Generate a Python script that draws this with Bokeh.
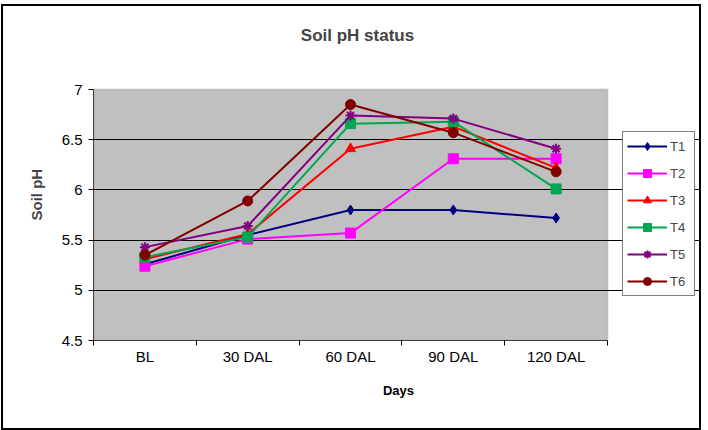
from bokeh.plotting import figure
from bokeh.models import (Range1d, FixedTicker, Legend, LegendItem, Title, Label,
                          BoxAnnotation)
from bokeh.embed import file_html
from bokeh.resources import INLINE

# Sampling days and soil pH readings for each treatment
days = ["BL", "30 DAL", "60 DAL", "90 DAL", "120 DAL"]
t1 = [5.26, 5.55, 5.80, 5.80, 5.72]
t2 = [5.24, 5.51, 5.57, 6.31, 6.31]
t3 = [5.31, 5.56, 6.41, 6.63, 6.22]
t4 = [5.33, 5.53, 6.66, 6.68, 6.01]
t5 = [5.43, 5.64, 6.74, 6.71, 6.41]
t6 = [5.35, 5.89, 6.85, 6.57, 6.18]
y_ticks = [4.5, 5, 5.5, 6, 6.5, 7]

series = [
    ("T1", t1, "#000080", "diamond", 10),
    ("T2", t2, "#FF00FF", "square", 10),
    ("T3", t3, "#FF0000", "triangle", 10),
    ("T4", t4, "#00A650", "square", 10),
    ("T5", t5, "#800080", "asterisk", 10),
    ("T6", t6, "#800000", "circle", 10),
]

FONT = "Liberation Sans"
W, H = 696, 422            # figure size inside the chart border
BORDER = 2
CW, CH = W + 2 * BORDER, H + 2 * BORDER   # drawing surface also spans the border
AL, AR, AT, AB = 90, 604, 83, 334         # grey plotting area on the canvas

xs = list(range(1, len(days) + 1))
x0, x1 = 0.5, len(days) + 0.5
y0, y1 = y_ticks[0], y_ticks[-1]

# the frame runs from the plotting area to the right and top canvas edges,
# so the legend and title can sit beside the grey area
px_x = (AR - AL) / (x1 - x0)
px_y = (AB - AT) / (y1 - y0)
x_end = x0 + (CW - AL) / px_x
y_end = y1 + AT / px_y

p = figure(width=W, height=H, output_backend="svg", toolbar_location=None,
           x_range=Range1d(x0, x_end), y_range=Range1d(y0, y_end),
           min_border_left=AL, min_border_right=0,
           min_border_top=0, min_border_bottom=CH - AB)

# black frame round the whole chart
p.styles = {"border": f"{BORDER}px solid black", "margin-left": "1px",
            "margin-top": "4px", "box-sizing": "content-box"}

p.background_fill_color = "white"
p.border_fill_color = "white"
p.outline_line_color = None

p.add_layout(BoxAnnotation(left=x0, right=x1, bottom=y0, top=y1, level="image",
                           fill_color="#C0C0C0", fill_alpha=1,
                           line_color="#808080", line_width=2))

p.add_layout(Title(text="Soil pH", text_font=FONT, text_font_size="15px",
                   text_font_style="bold", align="left", offset=120,
                   standoff=28), "left")

# chart title, placed in canvas pixels above the plotting area
p.add_layout(Label(x=357 - 93, y=AB - 29, x_units="screen", y_units="screen",
                   text="Soil pH status", text_align="center", text_baseline="middle",
                   text_font=FONT, text_font_size="17px", text_font_style="bold"))

# category axis: labels at centres, short ticks on the boundaries
p.xaxis.bounds = (x0, x1)
p.xaxis.ticker = FixedTicker(ticks=xs, minor_ticks=[x - 0.5 for x in xs] + [xs[-1] + 0.5])
p.xaxis.major_label_overrides = {x: d for x, d in zip(xs, days)}
p.xaxis.major_tick_out = 0
p.xaxis.major_tick_in = 0
p.xaxis.minor_tick_out = 5
p.xaxis.minor_tick_in = 0
p.xaxis.minor_tick_line_color = "black"
p.xaxis.axis_line_color = "#404040"
p.xaxis.major_label_standoff = 2
p.xaxis.axis_label = "Days"
p.xaxis.axis_label_standoff = 15

p.yaxis.bounds = (y0, y1)
p.yaxis.ticker = FixedTicker(ticks=y_ticks, minor_ticks=[])
p.yaxis.major_label_overrides = {5: "5", 6: "6", 7: "7"}
p.yaxis.major_tick_out = 5
p.yaxis.major_tick_in = 0
p.yaxis.major_tick_line_color = "black"
p.yaxis.axis_line_color = "#404040"
p.yaxis.major_label_standoff = 6

for ax in (p.xaxis, p.yaxis):
    ax.major_label_text_font = FONT
    ax.major_label_text_font_size = "15px"
    ax.major_label_text_color = "black"
    ax.axis_label_text_font = FONT
    ax.axis_label_text_font_size = "13px"
    ax.axis_label_text_font_style = "bold"
    ax.axis_label_text_color = "black"

p.xgrid.grid_line_color = None
p.ygrid.ticker = FixedTicker(ticks=y_ticks[1:-1])
p.ygrid.bounds = (x0, x1)
p.ygrid.grid_line_color = "black"
p.ygrid.grid_line_width = 1

items = []
for name, vals, color, marker, size in series:
    ln = p.line(xs, vals, line_color=color, line_width=2)
    mk = p.scatter(xs, vals, marker=marker, size=size, fill_color=color,
                   line_color=color, line_width=2 if marker == "asterisk" else 1)
    items.append(LegendItem(label=name, renderers=[ln, mk]))

legend = Legend(items=items, location=(622 - 93, 340 - 296),
                glyph_width=40, glyph_height=20, label_height=20,
                spacing=7, padding=4, label_standoff=3, margin=0,
                label_text_font=FONT, label_text_font_size="13px",
                border_line_color="black", border_line_width=1,
                background_fill_color="white", background_fill_alpha=1)
p.add_layout(legend, "center")

open("out.html", "w").write(file_html(p, INLINE))
